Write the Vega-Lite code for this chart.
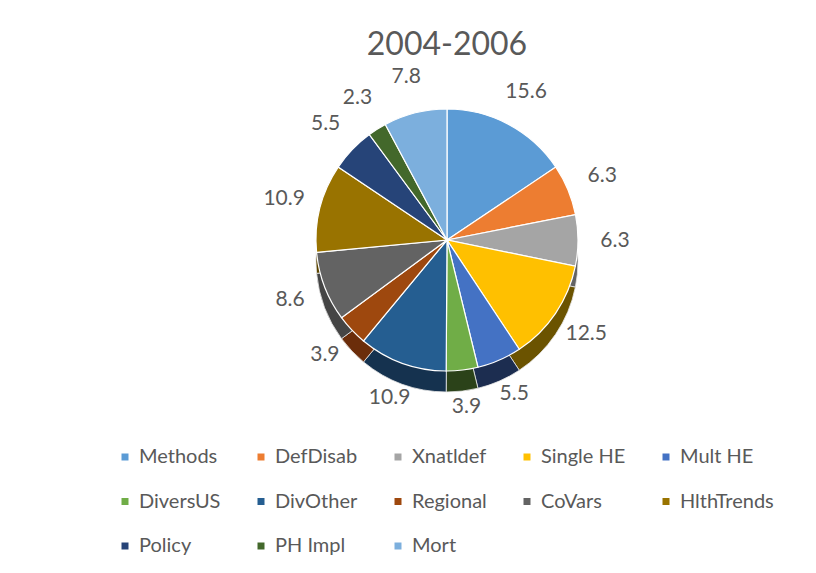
{
  "$schema": "https://vega.github.io/schema/vega-lite/v6.json",
  "autosize": "none",
  "width": 700,
  "height": 340,
  "padding": {"left": 97, "top": 70, "right": 19, "bottom": 163},
  "background": "white",
  "title": {"text": "2004-2006", "fontSize": 32, "font": "Lato", "fontWeight": "normal", "color": "#595959", "anchor": "middle", "frame": "group", "offset": 4},
  "config": {"view": {"stroke": null}},
  "data": {"values": [
    {"idx": 1, "category": "Methods", "value": 15.6},
    {"idx": 2, "category": "DefDisab", "value": 6.3},
    {"idx": 3, "category": "Xnatldef", "value": 6.3},
    {"idx": 4, "category": "Single HE", "value": 12.5},
    {"idx": 5, "category": "Mult HE", "value": 5.5},
    {"idx": 6, "category": "DiversUS", "value": 3.9},
    {"idx": 7, "category": "DivOther", "value": 10.9},
    {"idx": 8, "category": "Regional", "value": 3.9},
    {"idx": 9, "category": "CoVars", "value": 8.6},
    {"idx": 10, "category": "HlthTrends", "value": 10.9},
    {"idx": 11, "category": "Policy", "value": 5.5},
    {"idx": 12, "category": "PH Impl", "value": 2.3},
    {"idx": 13, "category": "Mort", "value": 7.8}
  ]},
  "encoding": {
    "theta": {"field": "value", "type": "quantitative", "stack": true},
    "order": {"field": "idx", "type": "quantitative"}
  },
  "layer": [
    {
      "mark": {"type": "arc", "outerRadius": 131, "yOffset": 21, "stroke": "#e8e8e8", "strokeWidth": 0.8},
      "encoding": {
        "color": {"field": "category", "type": "nominal",
          "scale": {"domain": ["Methods", "DefDisab", "Xnatldef", "Single HE", "Mult HE", "DiversUS", "DivOther", "Regional", "CoVars", "HlthTrends", "Policy", "PH Impl", "Mort"],
                    "range": ["#375d80", "#8e4b1d", "#636363", "#6b5300", "#1c2d50", "#2b4219", "#15324f", "#6b2d0a", "#454545", "#5c4500", "#16284a", "#283e1a", "#4a6985"]},
          "legend": null}
      }
    },
    {
      "mark": {"type": "arc", "outerRadius": 131, "stroke": "#ffffff", "strokeWidth": 1.2},
      "encoding": {
        "color": {"field": "category", "type": "nominal",
          "scale": {"domain": ["Methods", "DefDisab", "Xnatldef", "Single HE", "Mult HE", "DiversUS", "DivOther", "Regional", "CoVars", "HlthTrends", "Policy", "PH Impl", "Mort"],
                    "range": ["#5B9BD5", "#ED7D31", "#A5A5A5", "#FFC000", "#4472C4", "#70AD47", "#255E91", "#9E480E", "#636363", "#997300", "#264478", "#43682B", "#7CAFDD"]},
          "legend": {"orient": "none", "legendX": 18, "legendY": 377, "columns": 5, "direction": "horizontal", "title": null,
                     "symbolType": "square", "symbolSize": 49, "symbolStrokeWidth": 0, "labelFont": "Lato", "labelFontSize": 20,
                     "labelColor": "#595959", "columnPadding": 30, "rowPadding": 24.5, "labelOffset": 4, "padding": 0, "labelLimit": 300}}
      }
    },
    {
      "mark": {"type": "text", "radius": 168, "font": "Lato", "fontSize": 21, "color": "#595959"},
      "encoding": {
        "detail": {"field": "category", "type": "nominal"},
        "text": {"field": "value", "type": "quantitative", "format": ".1f"}
      }
    }
  ],
  "resolve": {"scale": {"color": "independent"}}
}
